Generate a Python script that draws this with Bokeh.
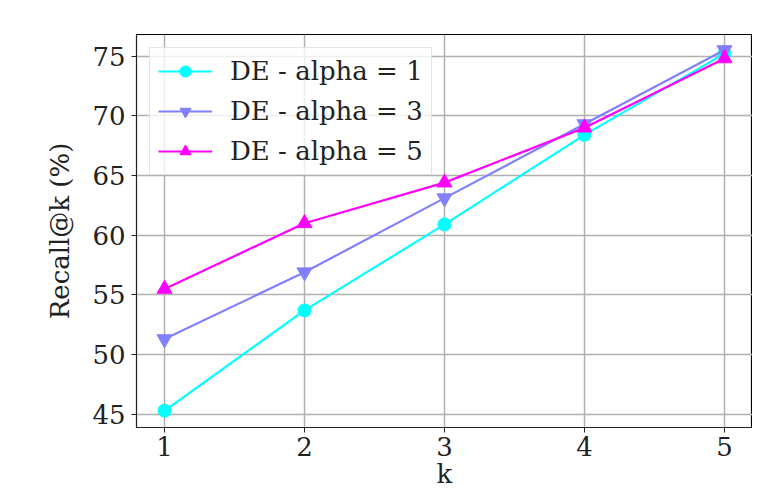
from bokeh.plotting import figure
from bokeh.models import Range1d, FixedTicker, Legend, LegendItem
from bokeh.embed import file_html
from bokeh.resources import INLINE

k_values = [1, 2, 3, 4, 5]
recall_alpha1 = [45.3, 53.7, 60.9, 68.4, 75.2]
recall_alpha3 = [51.3, 56.9, 63.1, 69.3, 75.5]
recall_alpha5 = [55.5, 61.0, 64.4, 69.0, 74.8]
series_labels = ["DE - alpha = 1", "DE - alpha = 3", "DE - alpha = 5"]
x_ticks = [1, 2, 3, 4, 5]
y_ticks = [45, 50, 55, 60, 65, 70, 75]

FONT = "DejaVu Serif"
FS = "26px"

p = figure(width=752, height=491, output_backend="svg", toolbar_location=None,
           x_range=Range1d(0.8, 5.2), y_range=Range1d(43.9, 76.8),
           min_border_left=136, min_border_right=0, min_border_top=34, min_border_bottom=40)
p.background_fill_color = "white"
p.border_fill_color = "white"
p.outline_line_color = "black"
p.outline_line_width = 1.2

for ax in (p.xaxis[0], p.yaxis[0]):
    ax.major_label_text_font = FONT
    ax.major_label_text_font_size = FS
    ax.major_label_text_color = "#222222"
    ax.axis_label_text_font = FONT
    ax.axis_label_text_font_size = FS
    ax.axis_label_text_font_style = "normal"
    ax.axis_label_text_color = "#222222"
    ax.major_tick_out = 5
    ax.major_tick_in = 0
    ax.minor_tick_out = 0
    ax.minor_tick_in = 0
    ax.major_tick_line_color = "#222222"
    ax.axis_line_color = "#222222"
    ax.major_label_standoff = 6

p.xaxis.ticker = FixedTicker(ticks=x_ticks)
p.yaxis.ticker = FixedTicker(ticks=y_ticks)
p.xaxis.axis_label = "k"
p.yaxis.axis_label = "Recall@k (%)"
p.xaxis.major_label_standoff = 4
p.xaxis.axis_label_standoff = 0
p.yaxis.axis_label_standoff = 14

p.xgrid.ticker = FixedTicker(ticks=x_ticks)
p.ygrid.ticker = FixedTicker(ticks=y_ticks)
for g in (p.xgrid[0], p.ygrid[0]):
    g.grid_line_color = "#b0b0b0"
    g.grid_line_width = 1.5

colors = ["#00ffff", "#8080ff", "#ff00ff"]
series = [recall_alpha1, recall_alpha3, recall_alpha5]
markers = ["circle", "inverted_triangle", "triangle"]
sizes = [13, 15, 15]

items = []
for ys, c, m, s, lab in zip(series, colors, markers, sizes, series_labels):
    l = p.line(k_values, ys, line_color=c, line_width=2.2)
    sc = p.scatter(k_values, ys, marker=m, size=s, fill_color=c, line_color=c)
    items.append(LegendItem(label=lab, renderers=[l, sc]))

legend = Legend(items=items, location="top_left")
legend.margin = 13
legend.padding = 8
legend.spacing = 10
legend.label_text_font = FONT
legend.label_text_font_size = FS
legend.label_text_color = "#222222"
legend.glyph_width = 54
legend.glyph_height = 28
legend.label_height = 28
legend.label_standoff = 18
legend.border_line_color = "#cccccc"
legend.border_line_width = 1.5
legend.background_fill_color = "white"
legend.background_fill_alpha = 0.8
p.add_layout(legend)

open("out.html", "w").write(file_html(p, INLINE))
